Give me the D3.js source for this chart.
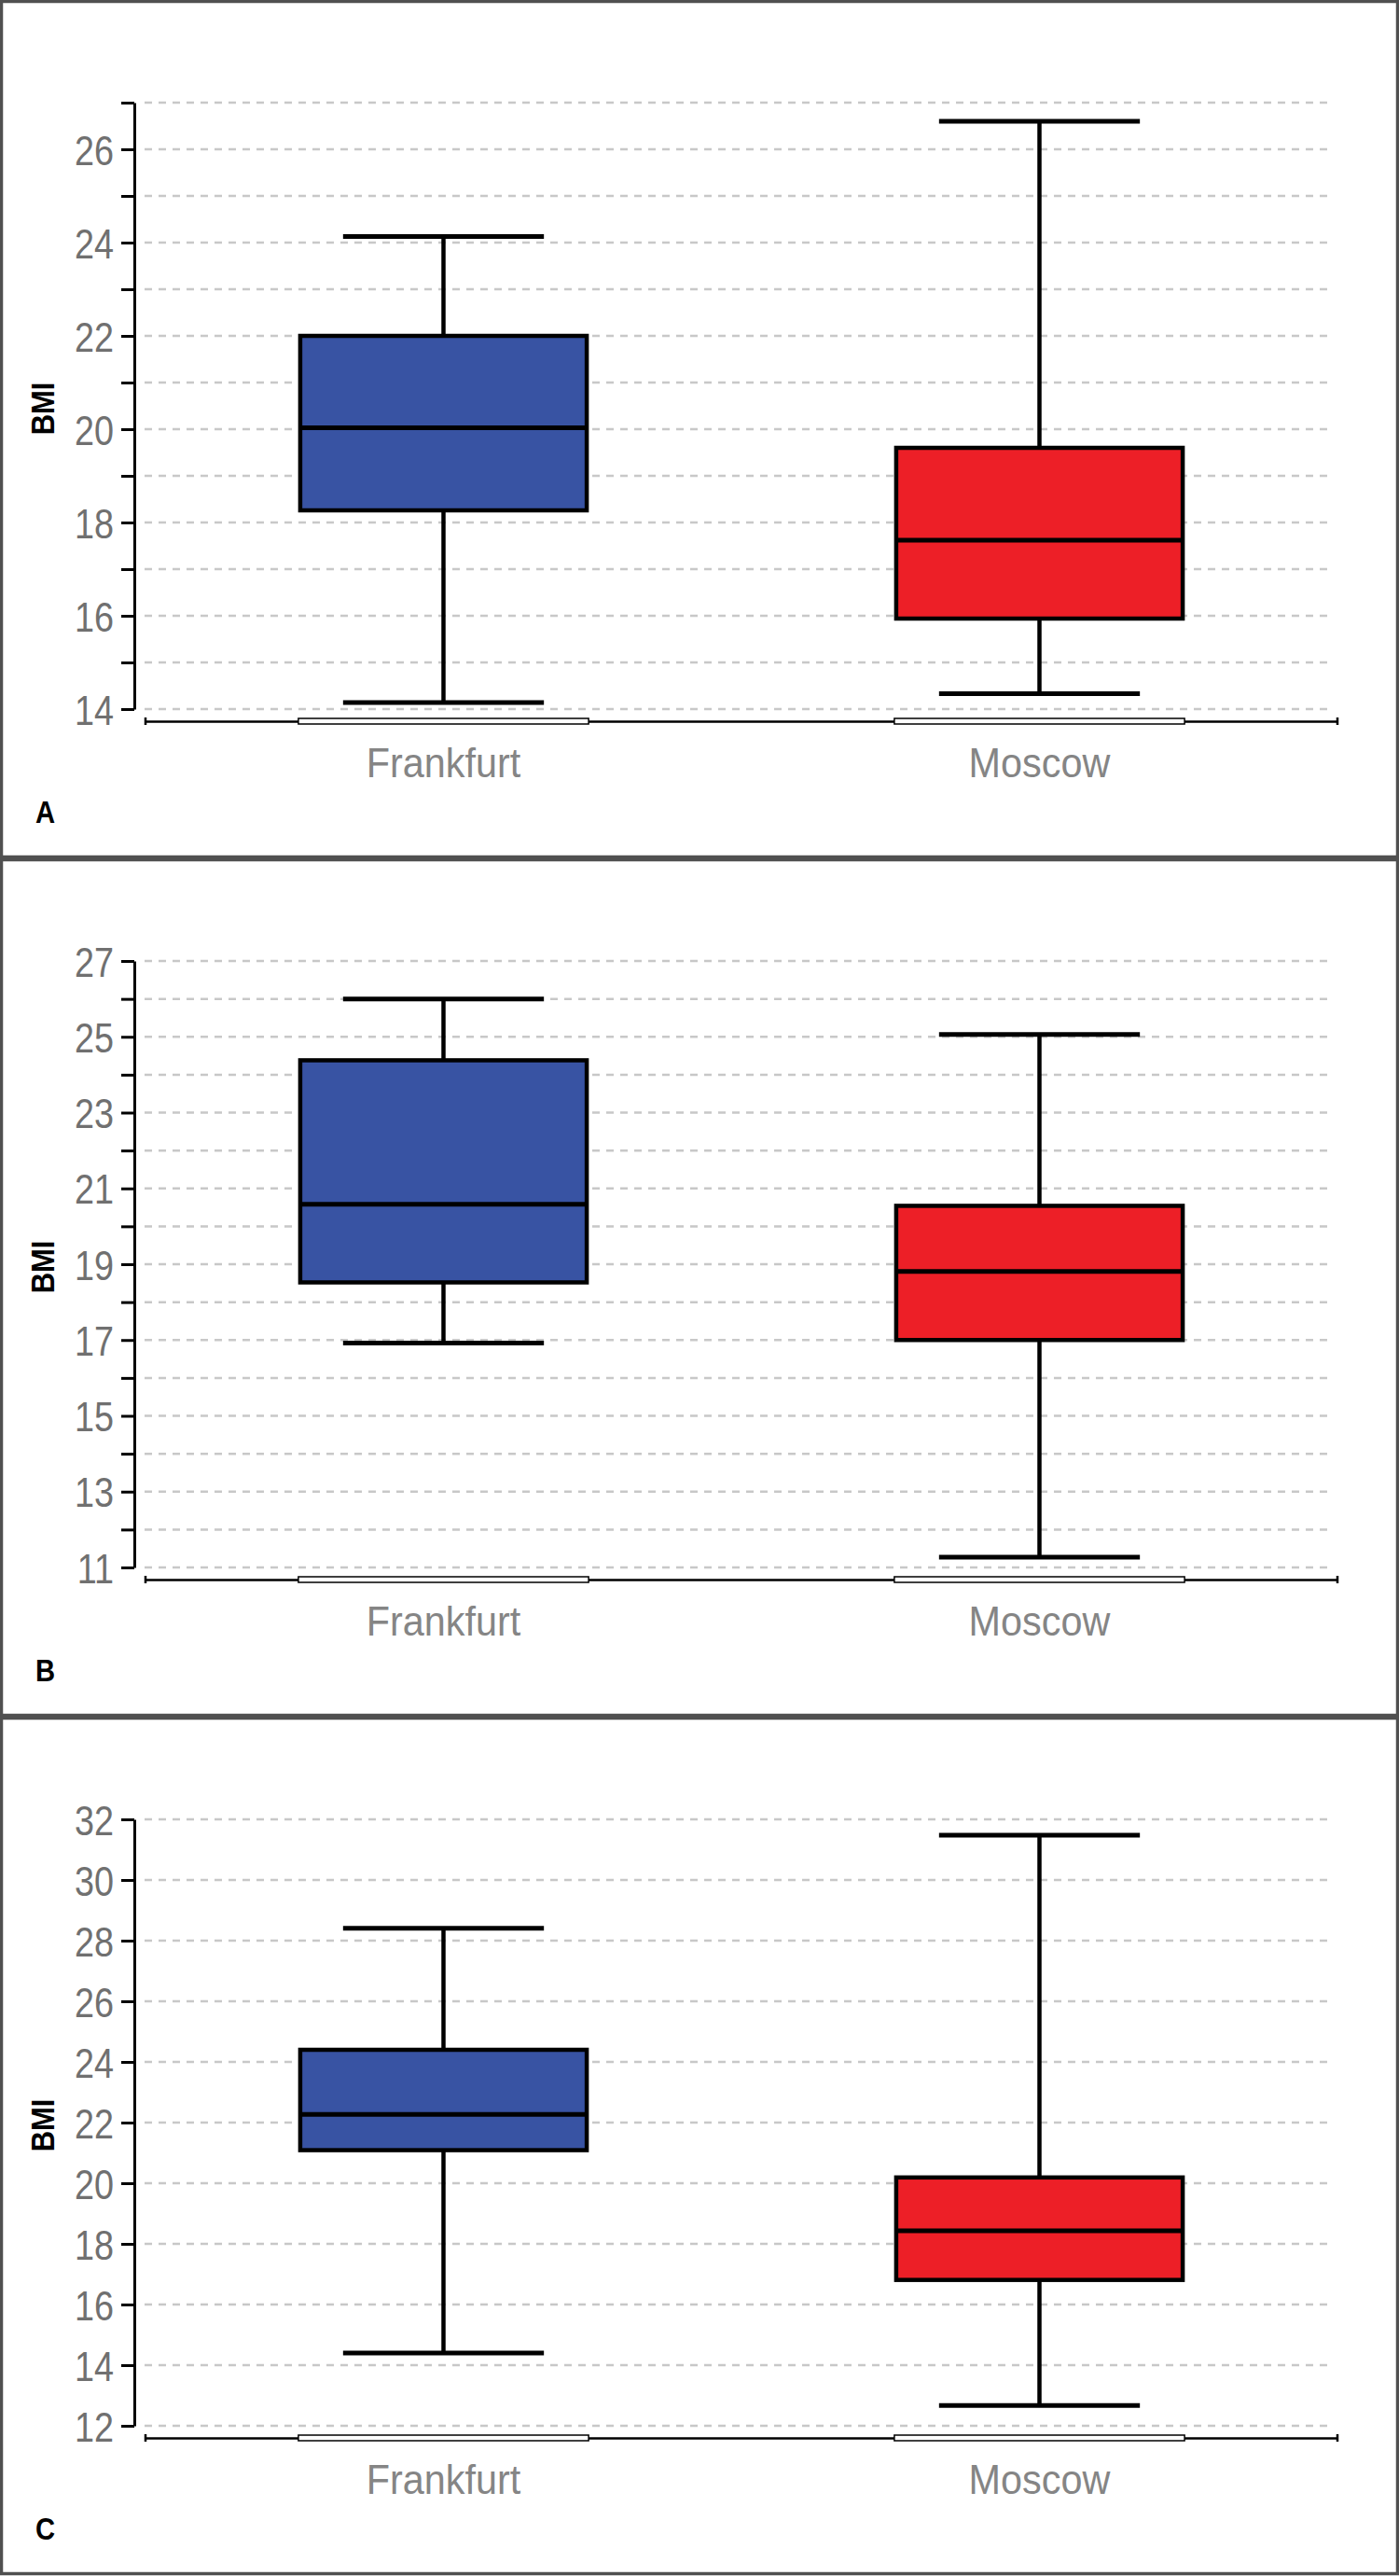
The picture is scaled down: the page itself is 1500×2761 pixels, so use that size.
<!DOCTYPE html>
<html>
<head>
<meta charset="utf-8">
<script src="https://cdn.jsdelivr.net/npm/d3@7"></script>
<style>
	html, body { margin: 0; padding: 0; background: #fff; }
	svg { display: block; }
	.tick-label { font-family: 'Liberation Sans', sans-serif; font-size: 45px; fill: #707070; }
	.cat-label { font-family: 'Liberation Sans', sans-serif; font-size: 45px; fill: #858585; }
	.axis-title { font-family: 'Liberation Sans', sans-serif; font-size: 36px; font-weight: bold; fill: #000; }
	.panel-letter { font-family: 'Liberation Sans', sans-serif; font-size: 34px; font-weight: bold; fill: #000; }
</style>
</head>
<body>
<svg id="chart" width="1500" height="2761"></svg>
<script>
'use strict';

// values (A, B, C); inner arrays are [Frankfurt, Moscow]
var aCategories = ['Frankfurt', 'Moscow'];
var aPanelLetters = ['A', 'B', 'C'];
var aYDomains = [[14, 27], [11, 27], [12, 32]];
var aTickSteps = [1, 1, 2];
var aTickLabelsA = [14, 16, 18, 20, 22, 24, 26];
var aTickLabelsB = [11, 13, 15, 17, 19, 21, 23, 25, 27];
var aTickLabelsC = [12, 14, 16, 18, 20, 22, 24, 26, 28, 30, 32];
var aWhiskerLow  = [[14.14, 14.33], [16.92, 11.27], [14.40, 12.67]];
var aQ1          = [[18.26, 15.94], [18.52, 17.00], [21.09, 16.81]];
var aMedian      = [[20.03, 17.62], [20.58, 18.81], [22.27, 18.43]];
var aQ3          = [[22.00, 19.60], [24.38, 20.54], [24.40, 20.19]];
var aWhiskerHigh = [[24.13, 26.60], [26.00, 25.06], [28.41, 31.48]];
var aColors = ['#3853a3', '#ed1f27'];
var strYTitle = 'BMI';

// the original uses a narrow face, squeeze the regular one horizontally
var nTickSqueeze = 0.84;
var nCatSqueeze = 0.92;
var nBoldSqueeze = 0.86;

function DrawBoxPanel(sSvg, nPanel, aTickLabels)
{
	var nPanelTop = nPanel * 920;
	var nPanelHeight = 920;
	var rPlot = {left: 144, right: 1425, top: 110, bottom: 760};
	var nXAxisY = 773;

	var sPanel = sSvg.append('g')
		.attr('transform', 'translate(0,' + nPanelTop + ')');

	// frame around each panel
	sPanel.append('rect')
		.attr('x', 1.5)
		.attr('y', 1.5)
		.attr('width', 1497)
		.attr('height', nPanelHeight - 3)
		.attr('fill', '#fff')
		.attr('stroke', '#505050')
		.attr('stroke-width', 3.5);

	var aDomain = aYDomains[nPanel];
	var nStep = aTickSteps[nPanel];
	var aTicks = d3.range(aDomain[0], aDomain[1] + nStep / 2, nStep);

	var scaleY = d3.scaleLinear()
		.domain(aDomain)
		.range([rPlot.bottom, rPlot.top]);

	var scaleX = d3.scaleBand()
		.domain(aCategories)
		.range([156, 1434])
		.paddingInner(0)
		.paddingOuter(0);

	var nBoxWidth = scaleX.bandwidth() * 0.487;
	var nCapWidth = scaleX.bandwidth() * 0.337;

	// dashed grid
	sPanel.append('g')
		.selectAll('line')
		.data(aTicks)
		.enter()
			.append('line')
				.attr('x1', 155)
				.attr('x2', rPlot.right)
				.attr('y1', function(d) { return scaleY(d); })
				.attr('y2', function(d) { return scaleY(d); })
				.attr('stroke', '#c8c8c8')
				.attr('stroke-width', 2.5)
				.attr('stroke-dasharray', '8,7');

	var axisY = d3.axisLeft(scaleY)
		.tickValues(aTicks)
		.tickSize(14)
		.tickSizeOuter(0)
		.tickPadding(8)
		.tickFormat(function(d) { return aTickLabels.indexOf(d) >= 0 ? d : ''; });

	var sAxisY = sPanel.append('g')
		.attr('transform', 'translate(' + rPlot.left + ',0)')
		.call(axisY);
	sAxisY.selectAll('path, line')
		.attr('stroke', '#000')
		.attr('stroke-width', 3);
	sAxisY.selectAll('text')
		.attr('class', 'tick-label')
		.attr('font-family', null)
		.attr('font-size', null)
		.attr('fill', null)
		.attr('x', -22 / nTickSqueeze)
		.attr('dy', '0.36em')
		.attr('transform', 'scale(' + nTickSqueeze + ',1)');
	sAxisY.attr('font-family', null).attr('font-size', null);

	var axisX = d3.axisBottom(scaleX)
		.tickSize(0)
		.tickSizeOuter(0)
		.tickPadding(28);

	var sAxisX = sPanel.append('g')
		.attr('transform', 'translate(0,' + nXAxisY + ')')
		.call(axisX);
	sAxisX.select('.domain')
		.attr('stroke', '#000')
		.attr('stroke-width', 2.5);
	sAxisX.selectAll('text')
		.attr('class', 'cat-label')
		.attr('font-family', null)
		.attr('font-size', null)
		.attr('fill', null)
		.attr('transform', 'scale(' + nCatSqueeze + ',1)');
	sAxisX.attr('font-family', null).attr('font-size', null);

	// small end caps on the category axis
	sAxisX.selectAll('.endcap')
		.data(scaleX.range())
		.enter()
			.append('line')
				.attr('class', 'endcap')
				.attr('x1', function(d) { return d; })
				.attr('x2', function(d) { return d; })
				.attr('y1', -4)
				.attr('y2', 4)
				.attr('stroke', '#000')
				.attr('stroke-width', 2.5);

	// category band marks on the axis
	sAxisX.selectAll('.band')
		.data(aCategories)
		.enter()
			.append('rect')
				.attr('class', 'band')
				.attr('x', function(d) { return scaleX(d) + scaleX.bandwidth() / 2 - nBoxWidth / 2; })
				.attr('y', -3)
				.attr('width', nBoxWidth)
				.attr('height', 6)
				.attr('fill', '#fff')
				.attr('stroke', '#000')
				.attr('stroke-width', 1.5);

	var aBoxes = aCategories.map(function(strCat, i)
	{
		return {
			cat: strCat,
			color: aColors[i],
			low: aWhiskerLow[nPanel][i],
			q1: aQ1[nPanel][i],
			median: aMedian[nPanel][i],
			q3: aQ3[nPanel][i],
			high: aWhiskerHigh[nPanel][i]
		};
	});

	var sBoxes = sPanel.selectAll('.box')
		.data(aBoxes)
		.enter()
			.append('g')
				.attr('class', 'box')
				.attr('transform', function(d) { return 'translate(' + (scaleX(d.cat) + scaleX.bandwidth() / 2) + ',0)'; });

	// whisker stems
	sBoxes.append('line')
		.attr('x1', 0).attr('x2', 0)
		.attr('y1', function(d) { return scaleY(d.high); })
		.attr('y2', function(d) { return scaleY(d.q3); })
		.attr('stroke', '#000')
		.attr('stroke-width', 4.5);
	sBoxes.append('line')
		.attr('x1', 0).attr('x2', 0)
		.attr('y1', function(d) { return scaleY(d.q1); })
		.attr('y2', function(d) { return scaleY(d.low); })
		.attr('stroke', '#000')
		.attr('stroke-width', 4.5);

	// whisker caps
	sBoxes.selectAll('.cap')
		.data(function(d) { return [d.low, d.high]; })
		.enter()
			.append('line')
				.attr('class', 'cap')
				.attr('x1', -nCapWidth / 2)
				.attr('x2', nCapWidth / 2)
				.attr('y1', function(v) { return scaleY(v); })
				.attr('y2', function(v) { return scaleY(v); })
				.attr('stroke', '#000')
				.attr('stroke-width', 5);

	sBoxes.append('rect')
		.attr('x', -nBoxWidth / 2 + 2)
		.attr('width', nBoxWidth - 4)
		.attr('y', function(d) { return scaleY(d.q3); })
		.attr('height', function(d) { return scaleY(d.q1) - scaleY(d.q3); })
		.attr('fill', function(d) { return d.color; })
		.attr('stroke', '#000')
		.attr('stroke-width', 4.5);

	sBoxes.append('line')
		.attr('x1', -nBoxWidth / 2 + 2)
		.attr('x2', nBoxWidth / 2 - 2)
		.attr('y1', function(d) { return scaleY(d.median); })
		.attr('y2', function(d) { return scaleY(d.median); })
		.attr('stroke', '#000')
		.attr('stroke-width', 5);

	sPanel.append('text')
		.attr('class', 'axis-title')
		.attr('transform', 'translate(58,' + ((rPlot.top + rPlot.bottom) / 2 + 3) + ') rotate(-90) scale(' + nBoldSqueeze + ',1)')
		.attr('text-anchor', 'middle')
		.text(strYTitle);

	sPanel.append('text')
		.attr('class', 'panel-letter')
		.attr('transform', 'translate(38,882) scale(' + nBoldSqueeze + ',1)')
		.text(aPanelLetters[nPanel]);
}

var sSvg = d3.select('#chart');
DrawBoxPanel(sSvg, 0, aTickLabelsA);
DrawBoxPanel(sSvg, 1, aTickLabelsB);
DrawBoxPanel(sSvg, 2, aTickLabelsC);
</script>
</body>
</html>
